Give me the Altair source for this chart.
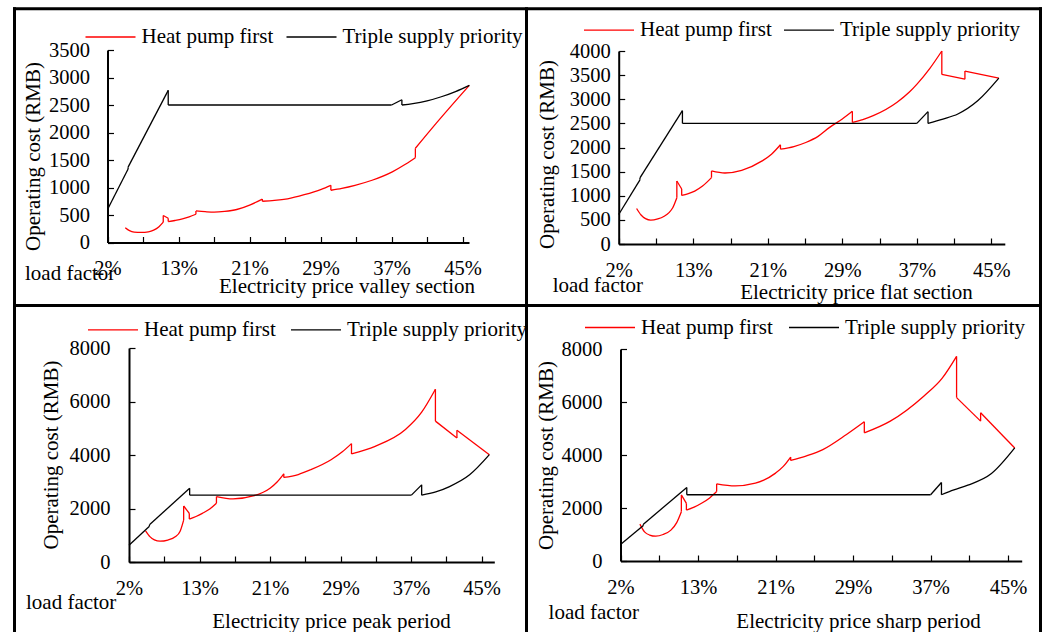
import json

import altair as alt
import pandas as pd

HP = "Heat pump first"
TS = "Triple supply priority"
SERIES = [HP, TS]
COLORS = ["#ff0000", "#000000"]
LOAD_LABELS = ["2%", "13%", "21%", "29%", "37%", "45%"]
FONT = "Liberation Serif"

# Each series is a list of (load position, cost in RMB).  A repeated position starts a new
# smooth run: with a different cost it is a vertical jump, with the same cost a sharp corner.

# ---- electricity price: valley section ----
VALLEY_HP_U = [0.50, 0.62, 0.75, 0.95, 1.15, 1.30, 1.45, 1.57,
               1.57, 1.71,
               1.71, 1.90, 2.11, 2.30, 2.49,
               2.49, 2.75, 3.00, 3.30, 3.64, 4.02, 4.36,
               4.36, 4.70, 5.07, 5.54, 6.02, 6.29,
               6.29, 6.60, 6.97, 7.45, 8.02, 8.40, 8.67,
               8.67, 9.26, 10.19]
VALLEY_HP_COST = [270, 215, 190, 184, 195, 225, 288, 370,
                  490, 440,
                  380, 400, 428, 465, 514,
                  575, 560, 551, 565, 600, 685, 790,
                  750, 765, 795, 869, 967, 1040,
                  950, 985, 1040, 1132, 1285, 1426, 1542,
                  1713, 2170, 2858]
VALLEY_TS_U = [0.00, 0.58, 0.58, 1.71, 1.71, 8.00, 8.00, 8.29, 8.29, 8.60, 9.00, 9.40, 9.80, 10.19]
VALLEY_TS_COST = [600, 1335, 1370, 2766, 2500, 2500, 2500, 2595, 2500, 2525, 2575, 2650, 2745, 2858]

# ---- electricity price: flat section ----
FLAT_HP_U = [0.48, 0.60, 0.72, 0.86, 1.05, 1.22, 1.35, 1.45, 1.56,
             1.56, 1.69,
             1.69, 1.85, 2.04, 2.25, 2.49,
             2.49, 2.85, 3.30, 3.85, 4.10, 4.34,
             4.34, 4.70, 5.02, 5.35, 5.66, 6.00, 6.27,
             6.27, 6.55, 6.83, 7.47, 7.80, 8.01, 8.35, 8.67,
             8.67, 9.29,
             9.29, 10.20]
FLAT_HP_COST = [736, 600, 525, 493, 520, 576, 650, 750, 958,
                1306, 1140,
                1007, 1040, 1097, 1200, 1375,
                1514, 1472, 1528, 1722, 1860, 2056,
                1965, 2020, 2104, 2230, 2417, 2590, 2750,
                2521, 2580, 2660, 2938, 3150, 3319, 3640, 4000,
                3514, 3417,
                3583, 3437]
FLAT_TS_U = [0.00, 0.57, 0.57, 1.71, 1.71, 8.00, 8.00, 8.30, 8.30, 8.70, 9.10, 9.64, 10.20]
FLAT_TS_COST = [611, 1330, 1370, 2764, 2500, 2500, 2500, 2743, 2500, 2590, 2694, 2972, 3437]

# ---- electricity price: peak period ----
PEAK_HP_U = [0.47, 0.60, 0.72, 0.88, 1.10, 1.31, 1.45, 1.55,
             1.55, 1.71,
             1.71, 1.90, 2.08, 2.30, 2.48,
             2.48, 2.95, 3.52, 4.00, 4.20, 4.39,
             4.39, 4.80, 5.15, 5.73, 6.05, 6.31,
             6.31, 6.98, 7.84, 8.30, 8.69,
             8.69, 9.30,
             9.30, 10.22]
PEAK_HP_COST = [1166, 940, 830, 777, 820, 940, 1150, 1567,
                2094, 1818,
                1605, 1700, 1818, 1990, 2194,
                2445, 2357, 2470, 2759, 2990, 3298,
                3160, 3270, 3448, 3824, 4120, 4426,
                4038, 4326, 4953, 5600, 6458,
                5266, 4639,
                4928, 4013]
PEAK_TS_U = [0.00, 0.58, 0.58, 1.72, 1.72, 8.01, 8.01, 8.30, 8.30, 8.70, 9.09, 9.66, 10.22]
PEAK_TS_COST = [627, 1340, 1390, 2759, 2500, 2500, 2500, 2884, 2500, 2620, 2821, 3260, 4013]

# ---- electricity price: sharp period ----
SHARP_HP_U = [0.50, 0.62, 0.75, 0.91, 1.10, 1.30, 1.45, 1.57,
              1.57, 1.70,
              1.70, 1.90, 2.09, 2.30, 2.48,
              2.48, 2.96, 3.48, 4.00, 4.20, 4.39,
              4.39, 4.80, 5.22, 5.83, 6.29,
              6.29, 6.96, 7.83, 8.30, 8.67,
              8.67, 9.29,
              9.29, 10.17]
SHARP_HP_COST = [1392, 1100, 980, 937, 1000, 1165, 1450, 1861,
                 2494, 2177,
                 1924, 2030, 2177, 2380, 2620,
                 2911, 2835, 2937, 3316, 3570, 3924,
                 3797, 3970, 4203, 4772, 5253,
                 4835, 5278, 6228, 6900, 7722,
                 6165, 5278,
                 5595, 4266]
SHARP_TS_U = [0.00, 0.59, 0.59, 1.71, 1.71, 8.00, 8.00, 8.28, 8.28, 8.60, 8.96, 9.57, 10.17]
SHARP_TS_COST = [620, 1340, 1390, 2772, 2500, 2500, 2500, 2962, 2500, 2680, 2860, 3300, 4266]

W, H = 1048, 632

# Placement of each panel on the page (pixels).
PANELS = [
    dict(title="Electricity price valley section", hp=(VALLEY_HP_U, VALLEY_HP_COST), ts=(VALLEY_TS_U, VALLEY_TS_COST),
         x0=107.5, x1=469, umax=10.18, y0=242.5, ytop=50, ymax=3500, ystep=500, ygap=18,
         xt=(346.5, 286), yt=(33, 156), lf=(25, 274), lg=(84.5, 36.5), cp=10),
    dict(title="Electricity price flat section", hp=(FLAT_HP_U, FLAT_HP_COST), ts=(FLAT_TS_U, FLAT_TS_COST),
         x0=618.7, x1=1004.8, umax=10.36, y0=244, ytop=51, ymax=4000, ystep=500, ygap=8.5,
         xt=(856, 292), yt=(547, 154), lf=(552.7, 285.5), lg=(583, 29.6), cp=9),
    dict(title="Electricity price peak period", hp=(PEAK_HP_U, PEAK_HP_COST), ts=(PEAK_TS_U, PEAK_TS_COST),
         x0=129, x1=494.3, umax=10.36, y0=562, ytop=348, ymax=8000, ystep=2000, ygap=19,
         xt=(331, 621), yt=(51.4, 454.5), lf=(26, 602.5), lg=(87, 329.3), cp=12),
    dict(title="Electricity price sharp period", hp=(SHARP_HP_U, SHARP_HP_COST), ts=(SHARP_TS_U, SHARP_TS_COST),
         x0=620.5, x1=1021.7, umax=10.35, y0=561, ytop=349, ymax=8000, ystep=2000, ygap=18.5,
         xt=(858, 621.5), yt=(546, 455), lf=(548.6, 613), lg=(584, 327), cp=13),
]

TICK = 6
label_expr = "datum.value % 2 == 0 ? " + json.dumps(LOAD_LABELS) + "[datum.value / 2] : ''"


def series_rows(name, us, cs):
    """Split a series into smooth runs, joined by vertical jumps where a position repeats."""
    rows, piece, order = [], 0, 0

    def add(u, c):
        nonlocal order
        rows.append({"u": u, "cost": c, "series": name, "piece": f"{name}{piece}", "idx": order})
        order += 1

    for i, (u, c) in enumerate(zip(us, cs)):
        if i > 0 and u == us[i - 1]:
            piece += 1
            if c != cs[i - 1]:
                add(us[i - 1], cs[i - 1])
                add(u, c)
                piece += 1
        add(u, c)
    return rows


def panel(p):
    df = pd.DataFrame(series_rows(HP, *p["hp"]) + series_rows(TS, *p["ts"]))

    x_axis = alt.Axis(
        orient="bottom", offset=p["y0"] - H, values=list(range(11)), labelExpr=label_expr,
        labelFlush=False, labelOverlap=False, tickSize={"expr": str(-TICK)}, labelPadding=16 + TICK,
        title=p["title"], titleX=p["xt"][0], titleY=p["xt"][1] - p["y0"], titleAlign="center",
        titleBaseline="middle", grid=False,
    )
    y_axis = alt.Axis(
        orient="left", offset=-p["x0"], values=list(range(0, p["ymax"] + 1, p["ystep"])), format="d",
        labelFlush=False, labelOverlap=False, tickSize={"expr": str(-TICK)}, labelPadding=p["ygap"] + TICK,
        title="Operating cost (RMB)", titleX=p["yt"][0] - p["x0"], titleY=p["yt"][1], titleAngle=-90,
        titleAlign="center", titleBaseline="middle", grid=False,
    )
    legend = alt.Legend(
        orient="none", legendX=p["lg"][0], legendY=p["lg"][1] - 25.5, direction="horizontal", title=None,
        symbolType="stroke", symbolSize=2500, symbolStrokeWidth=1.3, labelOffset=5, columnPadding=p["cp"],
        labelLimit=0, padding=0,
    )
    return alt.Chart(df).mark_line(strokeWidth=1.3, interpolate="monotone").encode(
        x=alt.X("u:Q", scale=alt.Scale(domain=[0, p["umax"]], range=[p["x0"], p["x1"]], nice=False, zero=False),
                axis=x_axis),
        y=alt.Y("cost:Q", scale=alt.Scale(domain=[0, p["ymax"]], range=[p["y0"], p["ytop"]], nice=False),
                axis=y_axis),
        color=alt.Color("series:N", scale=alt.Scale(domain=SERIES, range=COLORS), legend=legend),
        detail="piece:N",
        order="idx:Q",
    )


one = alt.Data(values=[{}])


def load_factor(p):
    return alt.Chart(one).mark_text(align="left", baseline="middle", font=FONT, fontSize=21, color="black").encode(
        x=alt.value(p["lf"][0]), y=alt.value(p["lf"][1]), text=alt.value("load factor"))


def hline(x1, x2, y):
    return alt.Chart(one).mark_rule(color="black", strokeWidth=3).encode(
        x=alt.value(x1), x2=alt.value(x2), y=alt.value(y))


def vline(x, y1, y2):
    return alt.Chart(one).mark_rule(color="black", strokeWidth=3).encode(
        x=alt.value(x), y=alt.value(y1), y2=alt.value(y2))


frame = [
    hline(13, 1042, 8.8), hline(13, 1042, 305.5),
    vline(14.5, 7.3, H), vline(526.5, 7.3, H), vline(1040.5, 7.3, H),
]

chart = alt.layer(
    *[panel(p) for p in PANELS], *[load_factor(p) for p in PANELS], *frame
).resolve_scale(
    x="independent", y="independent", color="independent"
).properties(
    width=W, height=H, padding=0, autosize=alt.AutoSizeParams(type="none"), background="white"
).configure_view(
    stroke=None
).configure_axis(
    labelFont=FONT, labelFontSize=20.5, labelColor="black", titleFont=FONT, titleFontSize=21,
    titleFontWeight="normal", titleColor="black", domainColor="black", domainWidth=2,
    tickColor="black", tickWidth=1.2,
).configure_legend(
    labelFont=FONT, labelFontSize=21, labelColor="black",
)

chart.save("out.html", embed_options={"renderer": "svg", "actions": False})
